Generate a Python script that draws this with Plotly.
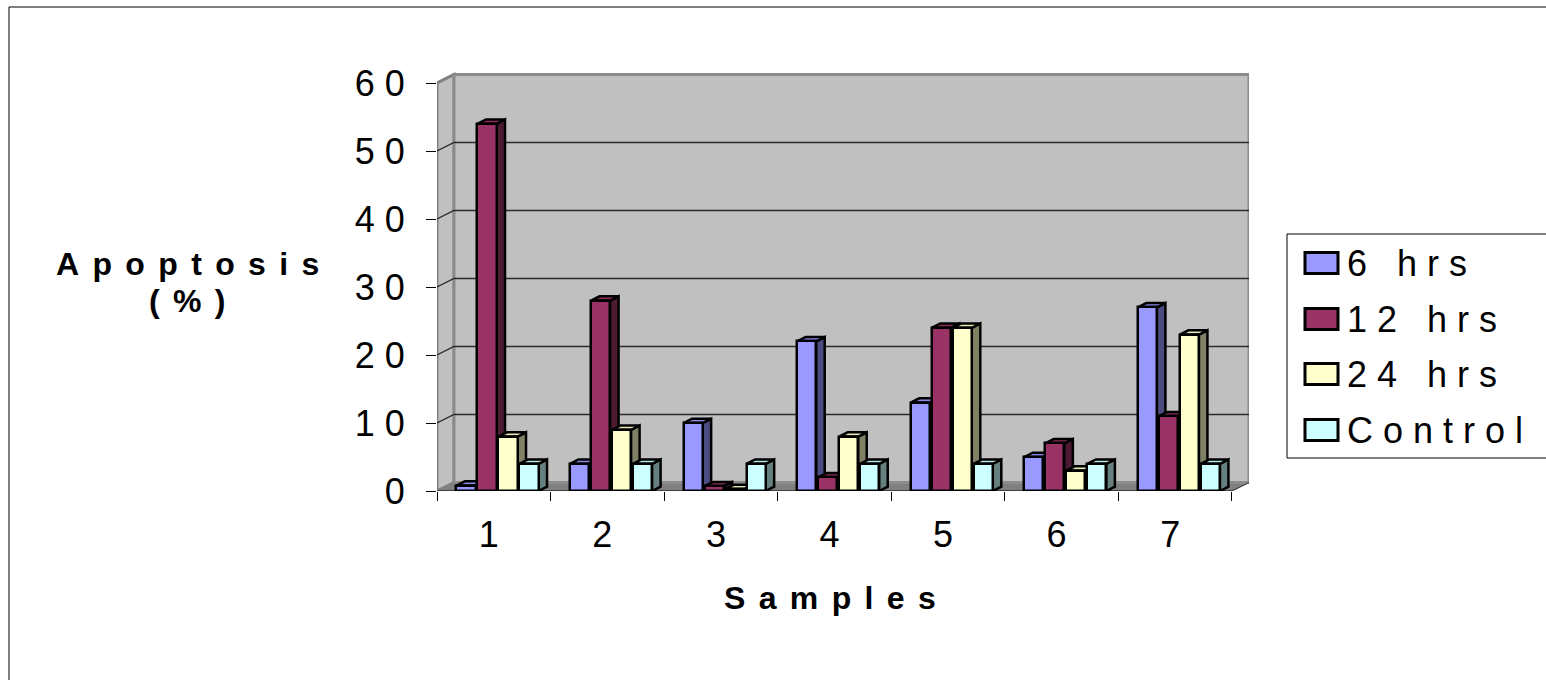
import plotly.graph_objects as go

# ---- data -------------------------------------------------------------
samples = ["1", "2", "3", "4", "5", "6", "7"]
series_names = ["6 hrs", "12 hrs", "24 hrs", "Control"]
hrs_6 = [0.8, 4, 10, 22, 13, 5, 27]
hrs_12 = [54, 28, 0.7, 2, 24, 7, 11]
hrs_24 = [8, 9, 0.3, 8, 24, 3, 23]
control = [4, 4, 4, 4, 4, 4, 4]
y_tick_values = [0, 10, 20, 30, 40, 50, 60]

series_values = [hrs_6, hrs_12, hrs_24, control]
front_colors = ["#9999FF", "#993366", "#FFFFCC", "#CCFFFF"]
side_colors = ["#4C4C80", "#4D1A33", "#808066", "#668080"]
top_colors = ["#8A8AE6", "#8A2E5C", "#E6E6B8", "#B8E6E6"]

# ---- page geometry ------------------------------------------------------
W, H = 1546, 680
ML, MR, MT, MB = 437, 297, 69, 189
PW, PH = W - ML - MR, H - MT - MB
PX_PER_CAT = 113.57          # horizontal pixels per sample slot
PX_PER_UNIT = 6.8            # vertical pixels per percent
X_RANGE = [-0.5, -0.5 + PW / PX_PER_CAT]
Y_RANGE = [0, PH / PX_PER_UNIT]
Y_MAX = 60

# oblique depth of the walls / of the columns (pixels -> axis units)
WDX, WDY = 17 / PX_PER_CAT, 8.5 / PX_PER_UNIT
BDX, BDY = 8.5 / PX_PER_CAT, 4.3 / PX_PER_UNIT

# column layout inside one slot
PITCH = 0.185
BAR_W = 0.168
GROUP_SHIFT = 0.041

FONT = "Liberation Sans, Arial, sans-serif"


def spaced(text, gap="\u00a0"):
    return gap.join(list(text.replace(" ", "\u00a0")))


def px_x(px):
    return (px - ML) / PW


def px_y(py):
    return (H - MB - py) / PH


def poly(xs, ys, fill, line_color, line_width):
    fig.add_trace(go.Scatter(
        x=xs + [xs[0]], y=ys + [ys[0]], mode="lines", fill="toself",
        fillcolor=fill, line=dict(color=line_color, width=line_width),
        hoverinfo="skip", showlegend=False, xaxis="x", yaxis="y"))


def seg(xs, ys, color, width):
    fig.add_trace(go.Scatter(
        x=xs, y=ys, mode="lines", line=dict(color=color, width=width),
        hoverinfo="skip", showlegend=False, xaxis="x", yaxis="y"))


fig = go.Figure()

x_lo, x_hi = -0.5, len(samples) - 0.5

# floor
poly([x_lo, x_hi, x_hi + WDX, x_lo + WDX], [0, 0, WDY, WDY], "#808080", "#808080", 1)
# left side wall
poly([x_lo, x_lo + WDX, x_lo + WDX, x_lo], [0, WDY, Y_MAX + WDY, Y_MAX], "#C0C0C0", "#808080", 3)
# back wall
poly([x_lo + WDX, x_hi + WDX, x_hi + WDX, x_lo + WDX],
     [WDY, WDY, Y_MAX + WDY, Y_MAX + WDY], "#C0C0C0", "#8C8C8C", 3)

# gridlines on the back wall with their run across the side wall
for v in y_tick_values[1:-1]:
    seg([x_lo, x_lo + WDX, x_hi + WDX], [v, v + WDY, v + WDY], "#2A2A2A", 1.3)
# right edge of floor and front axis line
seg([x_hi, x_hi + WDX], [0, WDY], "#333333", 1)
seg([x_lo, x_hi], [0, 0], "#000000", 1.2)

# column sides and tops (behind the front faces), left to right
for i in range(len(samples)):
    for k, vals in enumerate(series_values):
        v = vals[i]
        xl = i + GROUP_SHIFT + (k - 2) * PITCH
        xr = xl + BAR_W
        poly([xr, xr + BDX, xr + BDX, xr], [0, BDY, v + BDY, v], side_colors[k], "#000000", 2.5)
        poly([xl, xl + BDX, xr + BDX, xr], [v, v + BDY, v + BDY, v], top_colors[k], "#000000", 2.5)

# column front faces on an overlaid subplot so they sit above the sides
for k, vals in enumerate(series_values):
    fig.add_trace(go.Bar(
        x=[i + GROUP_SHIFT + (k - 2) * PITCH + BAR_W / 2 for i in range(len(samples))],
        y=vals, width=BAR_W, name=series_names[k],
        marker=dict(color=front_colors[k], line=dict(color="#000000", width=2.5)),
        showlegend=False, xaxis="x2", yaxis="y2"))

fig.update_layout(
    width=W, height=H, margin=dict(l=ML, r=MR, t=MT, b=MB),
    paper_bgcolor="white", plot_bgcolor="rgba(0,0,0,0)",
    barmode="overlay", bargap=0,
    font=dict(family=FONT, size=36, color="black"),
    xaxis=dict(
        range=X_RANGE, showgrid=False, zeroline=False, showline=False,
        tickmode="array", tickvals=[i - 0.044 for i in range(len(samples))],
        ticktext=samples, ticks="", ticklabelstandoff=19,
        tickfont=dict(size=36, family=FONT),
        minor=dict(tickmode="array",
                   tickvals=[i - 0.5 for i in range(len(samples) + 1)],
                   ticks="outside", ticklen=9, tickcolor="#000000", tickwidth=1,
                   showgrid=False),
    ),
    yaxis=dict(
        range=Y_RANGE, showgrid=False, zeroline=False, showline=False,
        tickmode="array", tickvals=y_tick_values,
        ticktext=[spaced(str(v)) for v in y_tick_values],
        ticks="outside", ticklen=10, tickcolor="#000000", tickwidth=1,
        ticklabelstandoff=14, tickfont=dict(size=36, family=FONT),
    ),
    xaxis2=dict(range=X_RANGE, overlaying="x", visible=False),
    yaxis2=dict(range=Y_RANGE, overlaying="y", visible=False),
)

# axis titles
title_gap = "\u2004\u200a"
fig.add_annotation(xref="paper", yref="paper", x=px_x(187), y=px_y(264),
                   text=spaced("Apoptosis", title_gap), showarrow=False,
                   xanchor="center", yanchor="middle",
                   font=dict(size=32, family=FONT, weight="bold"))
fig.add_annotation(xref="paper", yref="paper", x=px_x(187), y=px_y(301),
                   text=spaced("(%)", title_gap), showarrow=False,
                   xanchor="center", yanchor="middle",
                   font=dict(size=32, family=FONT, weight="bold"))
fig.add_annotation(xref="paper", yref="paper", x=px_x(830), y=px_y(598),
                   text=spaced("Samples", title_gap), showarrow=False,
                   xanchor="center", yanchor="middle",
                   font=dict(size=32, family=FONT, weight="bold"))

# legend box with swatches
shapes = [
    dict(type="rect", xref="paper", yref="paper",
         x0=px_x(9), x1=px_x(W + 20), y0=px_y(7), y1=px_y(H + 20),
         line=dict(color="#000000", width=1), fillcolor="rgba(0,0,0,0)", layer="below"),
    dict(type="rect", xref="paper", yref="paper",
         x0=px_x(1287), x1=px_x(W + 20), y0=px_y(234), y1=px_y(458),
         line=dict(color="#000000", width=1), fillcolor="white"),
]
row_centers = [263, 319, 374, 430]
for k, name in enumerate(series_names):
    yc = row_centers[k]
    shapes.append(dict(type="rect", xref="paper", yref="paper",
                       x0=px_x(1305), x1=px_x(1338), y0=px_y(yc - 10.5), y1=px_y(yc + 10.5),
                       line=dict(color="#000000", width=3), fillcolor=front_colors[k]))
    fig.add_annotation(xref="paper", yref="paper", x=px_x(1345), y=px_y(yc),
                       text=spaced(name), showarrow=False,
                       xanchor="left", yanchor="middle",
                       font=dict(size=36, family=FONT))
fig.update_layout(shapes=shapes)

fig.write_html("out.html")
